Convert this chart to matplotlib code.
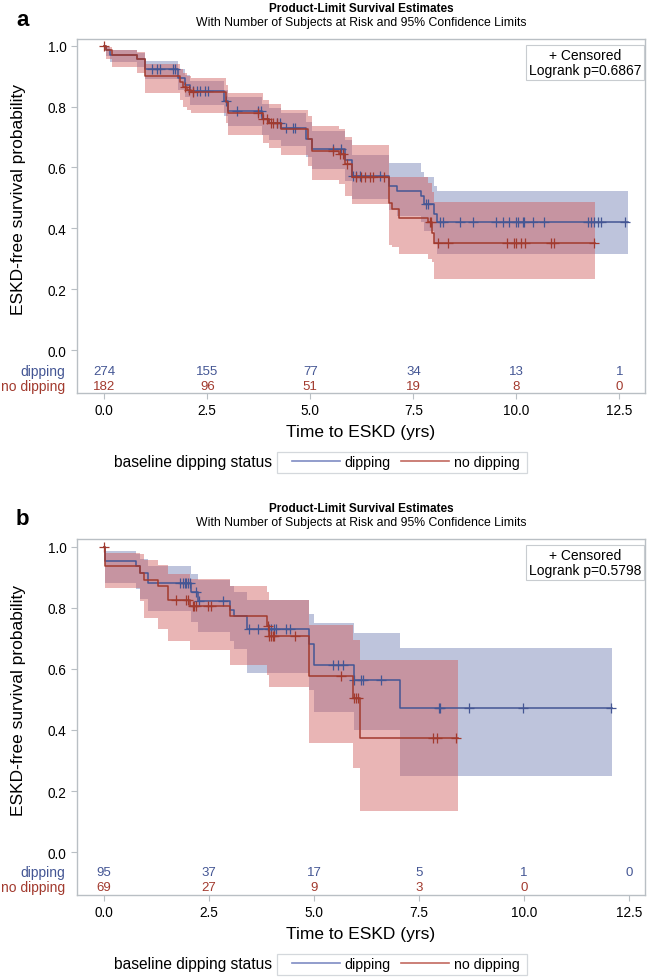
import numpy as np
import matplotlib
matplotlib.use("Agg")
import matplotlib.pyplot as plt
from matplotlib.lines import Line2D
from matplotlib.patches import Rectangle

plt.rcParams["font.family"] = ["Liberation Sans", "DejaVu Sans"]

# ==========================================
# Data
# ==========================================

groups = ["dipping", "no dipping"]
risk_ticks = [0.0, 2.5, 5.0, 7.5, 10.0, 12.5]

# panel a - dipping
a_dip_t = [0, 0.05, 0.15, 0.80, 1.00, 1.80, 1.95, 2.08, 2.90, 3.00, 3.82, 4.00,
           4.28, 4.90, 5.03, 5.83, 6.00, 6.92, 7.10, 7.69, 7.75, 7.99, 8.07]
a_dip_s = [1.0, 0.985, 0.97, 0.955, 0.925, 0.895, 0.87, 0.85, 0.817, 0.785, 0.76, 0.745,
           0.728, 0.695, 0.66, 0.626, 0.571, 0.539, 0.522, 0.506, 0.479, 0.446, 0.42]
a_dip_lo = [1.0, 0.965, 0.945, 0.93, 0.89, 0.855, 0.83, 0.805, 0.77, 0.735, 0.705, 0.69,
            0.67, 0.635, 0.595, 0.555, 0.495, 0.46, 0.44, 0.42, 0.39, 0.35, 0.315]
a_dip_up = [1.0, 0.995, 0.985, 0.975, 0.95, 0.925, 0.905, 0.885, 0.855, 0.83, 0.81, 0.795,
            0.78, 0.75, 0.72, 0.69, 0.64, 0.616, 0.616, 0.585, 0.567, 0.54, 0.522]
a_dip_end = 12.7
a_dip_cens = [1.15, 1.28, 1.36, 1.68, 1.72, 2.16, 2.24, 2.32, 2.45, 2.53, 2.95, 3.21,
              3.74, 3.80, 4.18, 4.26, 4.42, 4.58, 4.62, 5.54, 5.75, 6.04, 6.12, 6.20,
              6.68, 7.80, 7.85, 8.14, 8.22, 8.64, 8.94, 9.50, 9.67, 9.83, 9.99, 10.03,
              10.17, 10.19, 10.41, 10.68, 11.73, 11.81, 11.89, 11.97, 12.05, 12.64]

# panel a - no dipping
a_nod_t = [0, 0.05, 0.20, 0.80, 1.00, 1.83, 1.90, 2.00, 2.10, 2.95, 3.00, 3.85, 4.00,
           4.30, 4.95, 5.05, 5.70, 5.85, 6.00, 6.92, 6.98, 7.15, 7.85, 7.95, 8.00]
a_nod_s = [1.0, 0.985, 0.968, 0.955, 0.90, 0.88, 0.865, 0.855, 0.848, 0.815, 0.78, 0.76,
           0.745, 0.725, 0.695, 0.655, 0.645, 0.61, 0.57, 0.484, 0.462, 0.435, 0.42,
           0.386, 0.353]
a_nod_lo = [1.0, 0.955, 0.93, 0.91, 0.845, 0.82, 0.80, 0.79, 0.78, 0.745, 0.705, 0.68,
            0.665, 0.64, 0.605, 0.56, 0.545, 0.505, 0.48, 0.345, 0.34, 0.315, 0.30,
            0.288, 0.233]
a_nod_up = [1.0, 0.995, 0.985, 0.978, 0.94, 0.925, 0.91, 0.90, 0.895, 0.87, 0.845, 0.82,
            0.81, 0.79, 0.77, 0.735, 0.725, 0.70, 0.675, 0.57, 0.57, 0.57, 0.55, 0.52,
            0.485]
a_nod_end = 11.9
a_nod_cens = [0.0, 1.95, 2.05, 2.15, 3.74, 3.86, 3.95, 4.05, 4.10, 4.20, 5.55, 5.71,
              5.79, 5.90, 6.12, 6.24, 6.32, 6.44, 6.52, 6.80, 7.90, 7.93, 8.09, 8.34,
              9.77, 9.95, 10.00, 10.11, 10.22, 10.84, 10.92, 11.89]

a_risk_dip = [274, 155, 77, 34, 13, 1]
a_risk_nod = [182, 96, 51, 19, 8, 0]
a_pvalue = "0.6867"

# panel b - dipping
b_dip_t = [0, 0.03, 0.77, 0.85, 1.04, 2.08, 2.25, 2.99, 3.10, 3.40, 4.89, 5.01, 5.96, 7.04]
b_dip_s = [1.0, 0.952, 0.936, 0.914, 0.881, 0.85, 0.821, 0.794, 0.772, 0.729, 0.68,
           0.614, 0.565, 0.473]
b_dip_lo = [1.0, 0.88, 0.86, 0.83, 0.79, 0.755, 0.72, 0.69, 0.665, 0.587, 0.53, 0.46,
            0.40, 0.25]
b_dip_up = [1.0, 0.985, 0.975, 0.96, 0.936, 0.91, 0.89, 0.87, 0.85, 0.827, 0.78, 0.75,
            0.718, 0.669]
b_dip_end = 12.1
b_dip_cens = [1.80, 1.88, 1.92, 1.96, 2.00, 2.04, 2.20, 2.27, 2.83, 3.46, 3.66, 3.94,
              3.98, 4.06, 4.10, 4.34, 4.42, 5.45, 5.57, 5.69, 5.96, 6.12, 6.16, 6.60,
              7.97, 8.00, 8.70, 9.97, 12.08]

# panel b - no dipping
b_nod_t = [0, 0.03, 0.85, 0.95, 1.28, 1.52, 2.04, 2.99, 3.88, 3.94, 4.89, 5.92, 6.10]
b_nod_s = [1.0, 0.936, 0.915, 0.892, 0.87, 0.827, 0.805, 0.772, 0.74, 0.707, 0.576,
           0.506, 0.375]
b_nod_lo = [1.0, 0.865, 0.821, 0.767, 0.73, 0.69, 0.663, 0.614, 0.58, 0.54, 0.358,
            0.277, 0.135]
b_nod_up = [1.0, 0.98, 0.975, 0.955, 0.94, 0.91, 0.895, 0.87, 0.85, 0.827, 0.745,
            0.696, 0.63]
b_nod_end = 8.42
b_nod_cens = [0.0, 1.72, 1.96, 2.00, 2.11, 2.15, 2.20, 2.47, 2.55, 3.90, 3.94, 3.98,
              4.02, 4.06, 4.54, 5.65, 5.95, 6.00, 6.06, 7.83, 7.92, 8.38]

b_risk_dip = [95, 37, 17, 5, 1, 0]
b_risk_nod = [69, 27, 9, 3, 0]
b_pvalue = "0.5798"

# ==========================================
# Styles
# ==========================================

line_colors = ["#445694", "#A23A2E"]
band_colors = ["#6F7EB3", "#D05B5B"]
legend_colors = ["#7F8CC4", "#C26A60"]
frame_color = "#B9BFC4"
W, H = 647, 978


def km_curve(ax, t, s, lo, up, end, cens, i):
    t_ext = list(t) + [end]
    s_ext = list(s) + [s[-1]]
    lo_ext = list(lo) + [lo[-1]]
    up_ext = list(up) + [up[-1]]
    ax.fill_between(t_ext, lo_ext, up_ext, step="post",
                    color=band_colors[i], alpha=0.45, lw=0)
    ax.step(t_ext, s_ext, where="post", color=line_colors[i], lw=1.1)
    idx = np.searchsorted(t, cens, side="right") - 1
    ax.plot(cens, np.array(s)[idx], ls="none", marker="+", ms=6.5, mew=0.9,
            color=line_colors[i])


def panel(ax, letter, curves, risk, pvalue, xlim, ylim, rows_y, top_px, legend_px):
    for i, c in enumerate(curves):
        km_curve(ax, *c, i)

    label_x = (65 - 77) / (ax.get_position().width * W)
    for i, counts in enumerate(risk):
        for x, n in zip(risk_ticks, counts):
            ax.text(x, rows_y[i], str(n), ha="center", va="center",
                    fontsize=9.5, color=line_colors[i])
        ax.text(label_x, rows_y[i], groups[i], transform=ax.get_yaxis_transform(),
                ha="right", va="center", fontsize=10, color=line_colors[i])

    ax.set_xlim(*xlim)
    ax.set_ylim(*ylim)
    ax.set_xticks(risk_ticks)
    ax.set_xticklabels([f"{v:.1f}" for v in risk_ticks])
    ax.set_yticks([0.0, 0.2, 0.4, 0.6, 0.8, 1.0])
    ax.set_yticklabels([f"{v:.1f}" for v in [0.0, 0.2, 0.4, 0.6, 0.8, 1.0]])
    ax.tick_params(labelsize=9.8, color=frame_color, length=4, width=0.8)
    for sp in ax.spines.values():
        sp.set_color(frame_color)
        sp.set_linewidth(1.0)

    ax.set_xlabel("Time to ESKD (yrs)", fontsize=12.5, labelpad=5)
    ax.set_ylabel("ESKD-free survival probability", fontsize=12.5, labelpad=8)
    ax.yaxis.set_label_coords(-0.09, 0.55)

    ax.text(0.993, 0.975, "+ Censored\nLogrank p=" + pvalue, transform=ax.transAxes,
            ha="right", va="top", multialignment="center", fontsize=10,
            linespacing=1.1,
            bbox=dict(boxstyle="square,pad=0.2", fc="white", ec="#C8CCD0", lw=0.8))

    pos = ax.get_position()
    fig.text(16 / W, 1 - (top_px - 20) / H, letter, fontsize=16, fontweight="bold",
             ha="left", va="center")
    cx = (pos.x0 + pos.x1) / 2
    fig.text(cx, 1 - (top_px - 31) / H, "Product-Limit Survival Estimates",
             fontsize=8.5, fontweight="bold", ha="center", va="center")
    fig.text(cx, 1 - (top_px - 17) / H,
             "With Number of Subjects at Risk and 95% Confidence Limits",
             fontsize=8.8, ha="center", va="center")

    # legend below the x axis
    ly = 1 - legend_px / H
    fig.text(272 / W, ly, "baseline dipping status", fontsize=11.2,
             ha="right", va="center")
    fig.patches.append(Rectangle((277 / W, ly - 10.5 / H), 250 / W, 21 / H,
                                 transform=fig.transFigure, fill=False,
                                 ec="#D4D8DC", lw=0.9))
    handles = [Line2D([], [], color=legend_colors[0], lw=1.2),
               Line2D([], [], color=legend_colors[1], lw=1.2)]
    fig.legend(handles, groups, loc="center left", ncol=2,
               bbox_to_anchor=(292 / W, ly), fontsize=10.2,
               frameon=False, handlelength=3.4, handletextpad=0.3,
               columnspacing=0.75, borderpad=0, borderaxespad=0)


# ==========================================
# Figure
# ==========================================

fig = plt.figure(figsize=(W / 100, H / 100), dpi=100)

ax_a = fig.add_axes([77 / W, 1 - 394 / H, 568 / W, 354 / H])
ax_b = fig.add_axes([77 / W, 1 - 896 / H, 568 / W, 356 / H])

panel(ax_a, "a",
      [(a_dip_t, a_dip_s, a_dip_lo, a_dip_up, a_dip_end, a_dip_cens),
       (a_nod_t, a_nod_s, a_nod_lo, a_nod_up, a_nod_end, a_nod_cens)],
      [a_risk_dip, a_risk_nod], a_pvalue,
      (-0.66, 13.12), (-0.141, 1.022), (-0.069, -0.118), 40, 463)

panel(ax_b, "b",
      [(b_dip_t, b_dip_s, b_dip_lo, b_dip_up, b_dip_end, b_dip_cens),
       (b_nod_t, b_nod_s, b_nod_lo, b_nod_up, b_nod_end, b_nod_cens)],
      [b_risk_dip, b_risk_nod], b_pvalue,
      (-0.64, 12.88), (-0.14, 1.025), (-0.065, -0.113), 540, 965)

fig.savefig("out.png", dpi=100)
